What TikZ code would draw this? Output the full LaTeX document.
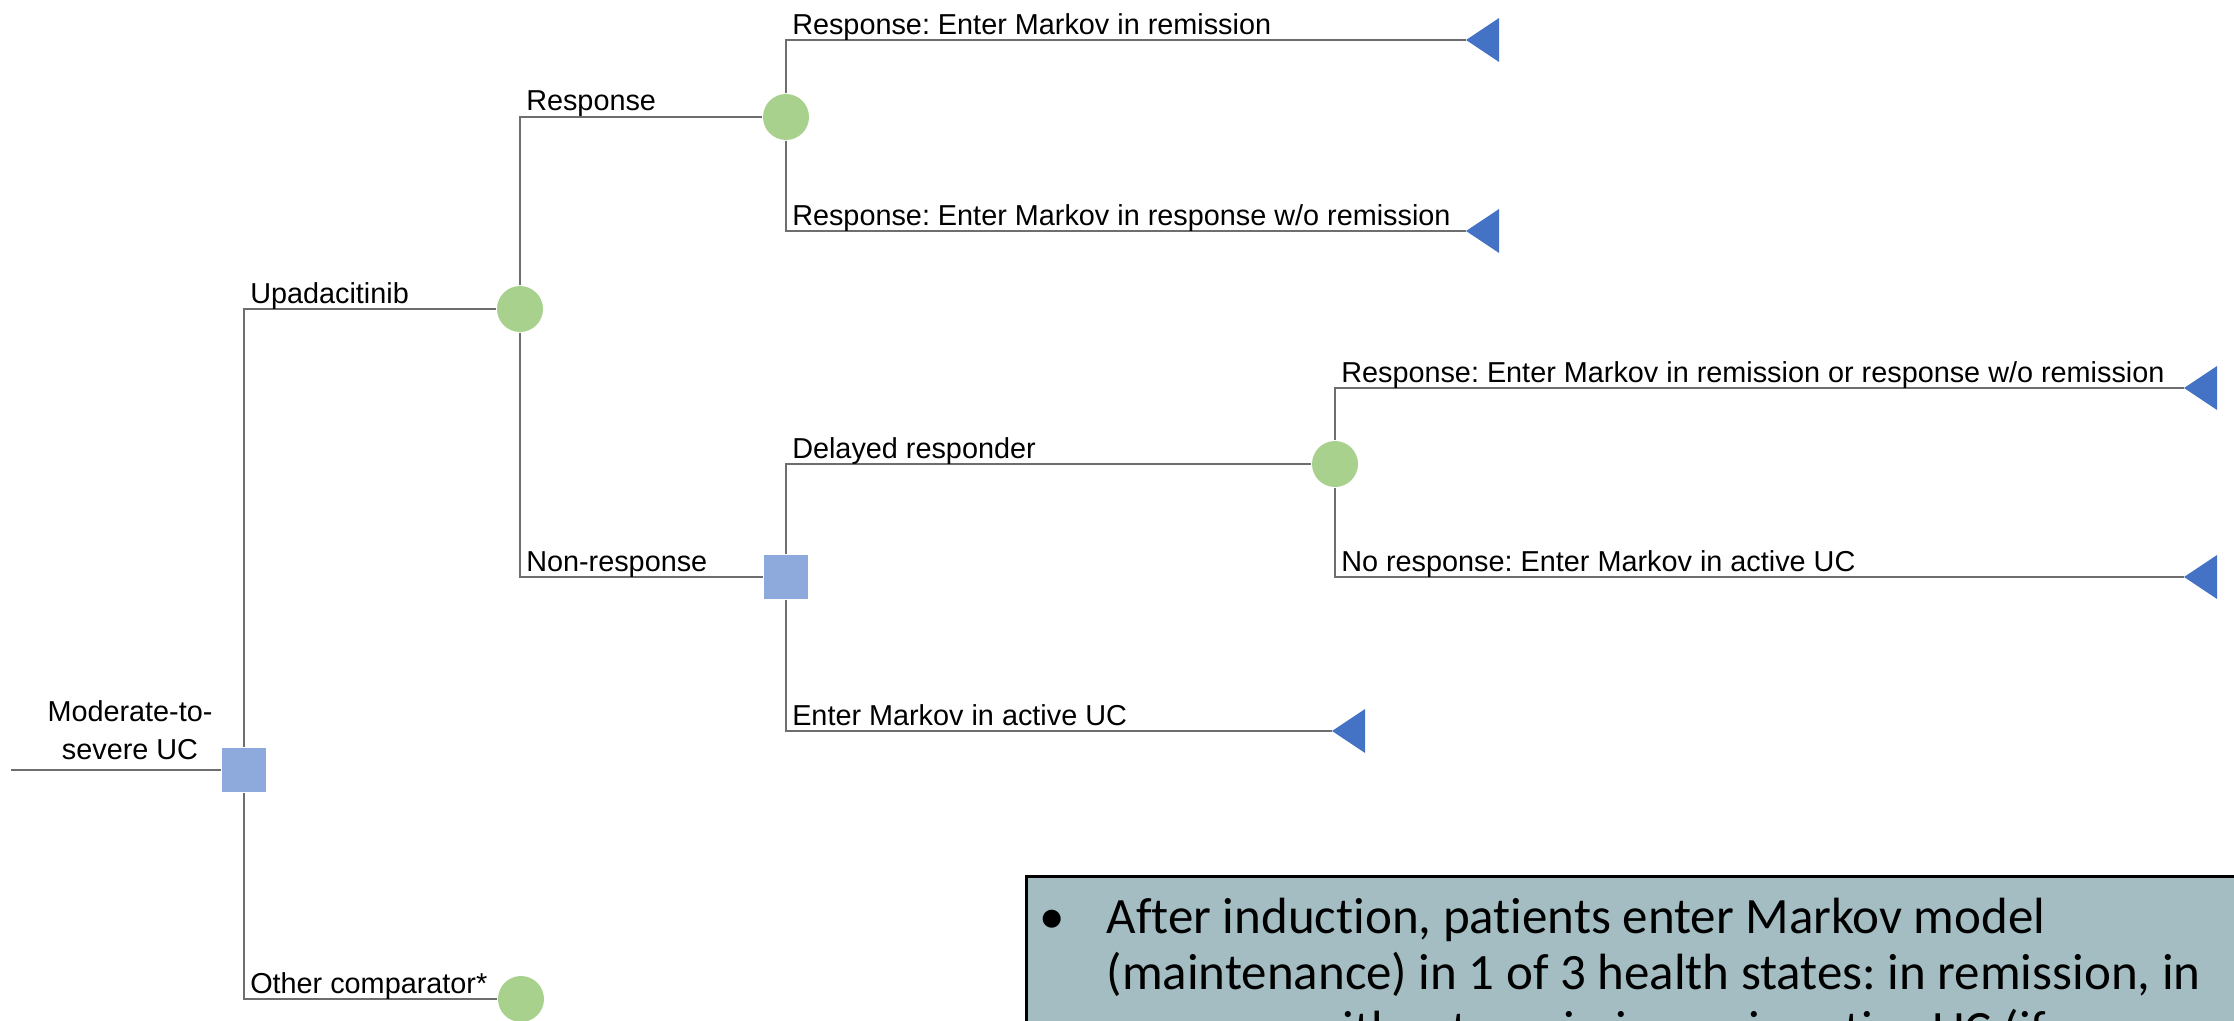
\documentclass[tikz,border=0pt]{standalone}
\usepackage{fontspec}
\setmainfont{Liberation Sans}
\newfontfamily\notefont[Ligatures=NoCommon]{Carlito}
\usetikzlibrary{positioning}
\frenchspacing

\definecolor{chancegreen}{RGB}{169,209,142}
\definecolor{decisionblue}{RGB}{142,169,219}
\definecolor{terminalblue}{RGB}{68,114,196}
\definecolor{branchgray}{RGB}{110,110,110}
\definecolor{notefill}{RGB}{163,189,194}

\tikzset{
  branch/.style={draw=branchgray, line width=0.25mm},
  chance/.style={circle, fill=chancegreen, minimum size=4.6mm, inner sep=0pt},
  decision/.style={rectangle, fill=decisionblue, minimum size=4.4mm, inner sep=0pt},
  lbl/.style={pos=0.5, anchor=base west, inner sep=0pt, xshift=0.5mm, yshift=0.6mm, font=\fontsize{8.2}{10.8}\selectfont},
  terminal/.style={fill=terminalblue},
  notebox/.style={draw=black, line width=0.25mm, fill=notefill, anchor=north west, minimum width=130mm, minimum height=20mm, inner sep=0pt},
  noteline/.style={anchor=base west, inner sep=0pt, font=\notefont\fontsize{14.5}{17}\selectfont},
}

\begin{document}
\begin{tikzpicture}[x=0.1mm, y=-0.1mm]
    \useasboundingbox (0,0) rectangle (2234,1021);
    \clip (0,0) rectangle (2234,1021);

    % Tree nodes
    \coordinate (start) at (11,770);
    \node[decision] (d1) at (244,770) {};
    \node[align=center, anchor=south, inner sep=0pt, font=\fontsize{8.2}{10.8}\selectfont] (rootlbl) at (130,760) {Moderate-to-\\severe UC};
    \node[chance] (c1) at (520,309) {};
    \node[chance] (c2) at (786,117) {};
    \node[decision] (d2) at (786,577) {};
    \node[chance] (c3) at (1335,464) {};
    \node[chance] (c4) at (521,999) {};
    \coordinate (t1) at (1466,40);
    \coordinate (t2) at (1466,231);
    \coordinate (t3) at (2184,388);
    \coordinate (t4) at (2184,577);
    \coordinate (t5) at (1332,731);

    % Branches
    \draw[branch] (start) -- (d1);
    \draw[branch] (d1) |- node[lbl] {Upadacitinib} (c1);
    \draw[branch] (d1) |- node[lbl] {Other comparator*} (c4);
    \draw[branch] (c1) |- node[lbl] {Response} (c2);
    \draw[branch] (c1) |- node[lbl] {Non-response} (d2);
    \draw[branch] (c2) |- node[lbl] {Response: Enter Markov in remission} (t1);
    \draw[branch] (c2) |- node[lbl] {Response: Enter Markov in response w/o remission} (t2);
    \draw[branch] (d2) |- node[lbl] {Delayed responder} (c3);
    \draw[branch] (d2) |- node[lbl] {Enter Markov in active UC} (t5);
    \draw[branch] (c3) |- node[lbl] {Response: Enter Markov in remission or response w/o remission} (t3);
    \draw[branch] (c3) |- node[lbl] {No response: Enter Markov in active UC} (t4);

    % Terminal triangles
    \foreach \t in {t1,t2,t3,t4,t5}
        \fill[terminal] (\t) -- ++(33,-22) -- ++(0,44) -- cycle;

    % Note box
    \node[notebox] (note) at (1025,875) {};
    \node[noteline, anchor=base] (bullet) at (1052,933) {\textbullet};
    \node[noteline] (line1) at (1106,933) {After induction, patients enter Markov model};
    \node[noteline] (line2) at (1106,989) {(maintenance) in 1 of 3 health states: in remission, in};
    \node[noteline] (line3) at (1106,1046) {response without remission or in active UC (if};
\end{tikzpicture}
\end{document}
